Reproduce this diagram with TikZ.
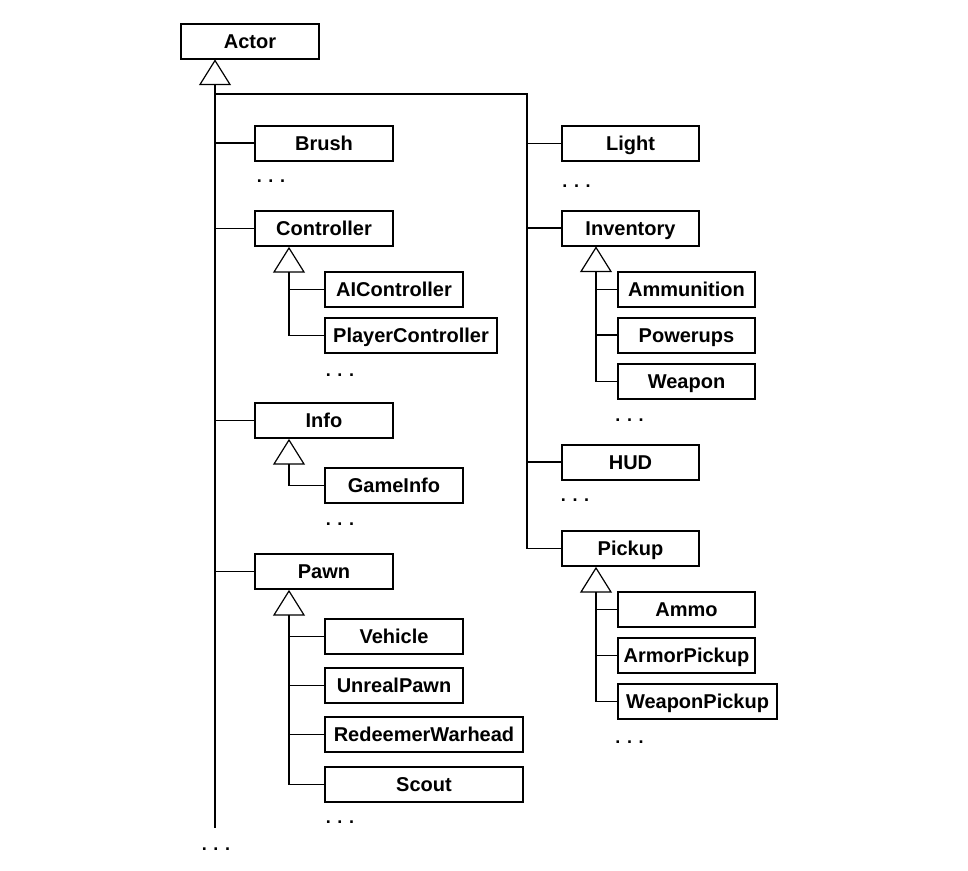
\documentclass[tikz,border=0pt]{standalone}
\usepackage{fontspec}
\setmainfont{Liberation Sans}
\usetikzlibrary{calc}
\newcommand{\inherit}[2]{%
  \path ($(#1.south west)+(35,1)$) coordinate (#2top) ++(0,24) coordinate (#2base);
  \draw[gen] (#2top) -- ($(#2base)+(-15,0)$) -- ($(#2base)+(15,0)$) -- cycle;
}
\begin{document}
\begin{tikzpicture}[x=1pt,y=-1pt,
  cls/.style={draw, line width=2pt, inner sep=0pt, minimum height=35pt, minimum width=138pt,
    font=\bfseries\fontsize{20}{24}\selectfont, text height=14.4pt, text depth=0pt},
  more/.style={inner sep=0pt, font=\bfseries\fontsize{18}{20}\selectfont},
  link/.style={line width=1.3pt},
  gen/.style={line width=1.2pt, fill=white, line join=miter}]
\useasboundingbox (0,0) rectangle (968,870);

% left column
\node[cls] (actor) at (250,41) {Actor};
\node[cls] (brush) at (324,143) {Brush};
\node[cls] (controller) at (324,228.5) {Controller};
\node[cls] (aic) at (394,289.5) {AIController};
\node[cls, minimum width=172pt] (pc) at (411,335.5) {PlayerController};
\node[cls] (info) at (324,420.5) {Info};
\node[cls] (gameinfo) at (394,485.5) {GameInfo};
\node[cls] (pawn) at (324,571.5) {Pawn};
\node[cls] (vehicle) at (394,636.5) {Vehicle};
\node[cls] (unrealpawn) at (394,685.5) {UnrealPawn};
\node[cls, minimum width=198pt] (redeemer) at (424,734.5) {RedeemerWarhead};
\node[cls, minimum width=198pt] (scout) at (424,784.5) {Scout};

% right column
\node[cls, minimum width=137pt] (light) at (630.5,143.5) {Light};
\node[cls, minimum width=137pt] (inventory) at (630.5,228) {Inventory};
\node[cls, minimum width=137pt] (ammunition) at (686.5,289.5) {Ammunition};
\node[cls, minimum width=137pt] (powerups) at (686.5,335) {Powerups};
\node[cls, minimum width=137pt] (weapon) at (686.5,381.5) {Weapon};
\node[cls, minimum width=137pt] (hud) at (630.5,462) {HUD};
\node[cls, minimum width=137pt] (pickup) at (630.5,548.5) {Pickup};
\node[cls, minimum width=137pt] (ammo) at (686.5,609.5) {Ammo};
\node[cls, minimum width=137pt] (armorpickup) at (686.5,655.5) {ArmorPickup};
\node[cls, minimum width=159pt] (weaponpickup) at (697.5,701.5) {WeaponPickup};

% ellipses
\node[more] (dbrush) at (271,181) {. . .};
\node[more] (dcontroller) at (340,375) {. . .};
\node[more] (dinfo) at (340,524) {. . .};
\node[more] (dpawn) at (340,822) {. . .};
\node[more] (dlight) at (576.5,186) {. . .};
\node[more] (dinventory) at (629.5,420) {. . .};
\node[more] (dhud) at (575,500) {. . .};
\node[more] (dpickup) at (629.5,742) {. . .};
\node[more] (dactor) at (216,849) {. . .};

% generalization triangles
\inherit{actor}{actor}
\inherit{controller}{ctrl}
\inherit{info}{info}
\inherit{pawn}{pawn}
\inherit{inventory}{inv}
\inherit{pickup}{pick}

% main trunk
\coordinate (mainend) at (216,828);
\coordinate (rtop) at (527,94);
\draw[link] (actorbase) -- (actorbase |- mainend);
\draw[link] (actorbase |- rtop) -- (rtop) -- (rtop |- pickup.west) -- (pickup.west);
\foreach \n in {brush,controller,info,pawn}
  \draw[link] (actorbase |- \n.west) -- (\n.west);
\foreach \n in {light,inventory,hud}
  \draw[link] (rtop |- \n.west) -- (\n.west);

% sub trees
\draw[link] (ctrlbase) |- (pc.west);
\draw[link] (ctrlbase |- aic.west) -- (aic.west);
\draw[link] (infobase) |- (gameinfo.west);
\draw[link] (pawnbase) |- (scout.west);
\foreach \n in {vehicle,unrealpawn,redeemer}
  \draw[link] (pawnbase |- \n.west) -- (\n.west);
\draw[link] (invbase) |- (weapon.west);
\foreach \n in {ammunition,powerups}
  \draw[link] (invbase |- \n.west) -- (\n.west);
\draw[link] (pickbase) |- (weaponpickup.west);
\foreach \n in {ammo,armorpickup}
  \draw[link] (pickbase |- \n.west) -- (\n.west);
\end{tikzpicture}
\end{document}
